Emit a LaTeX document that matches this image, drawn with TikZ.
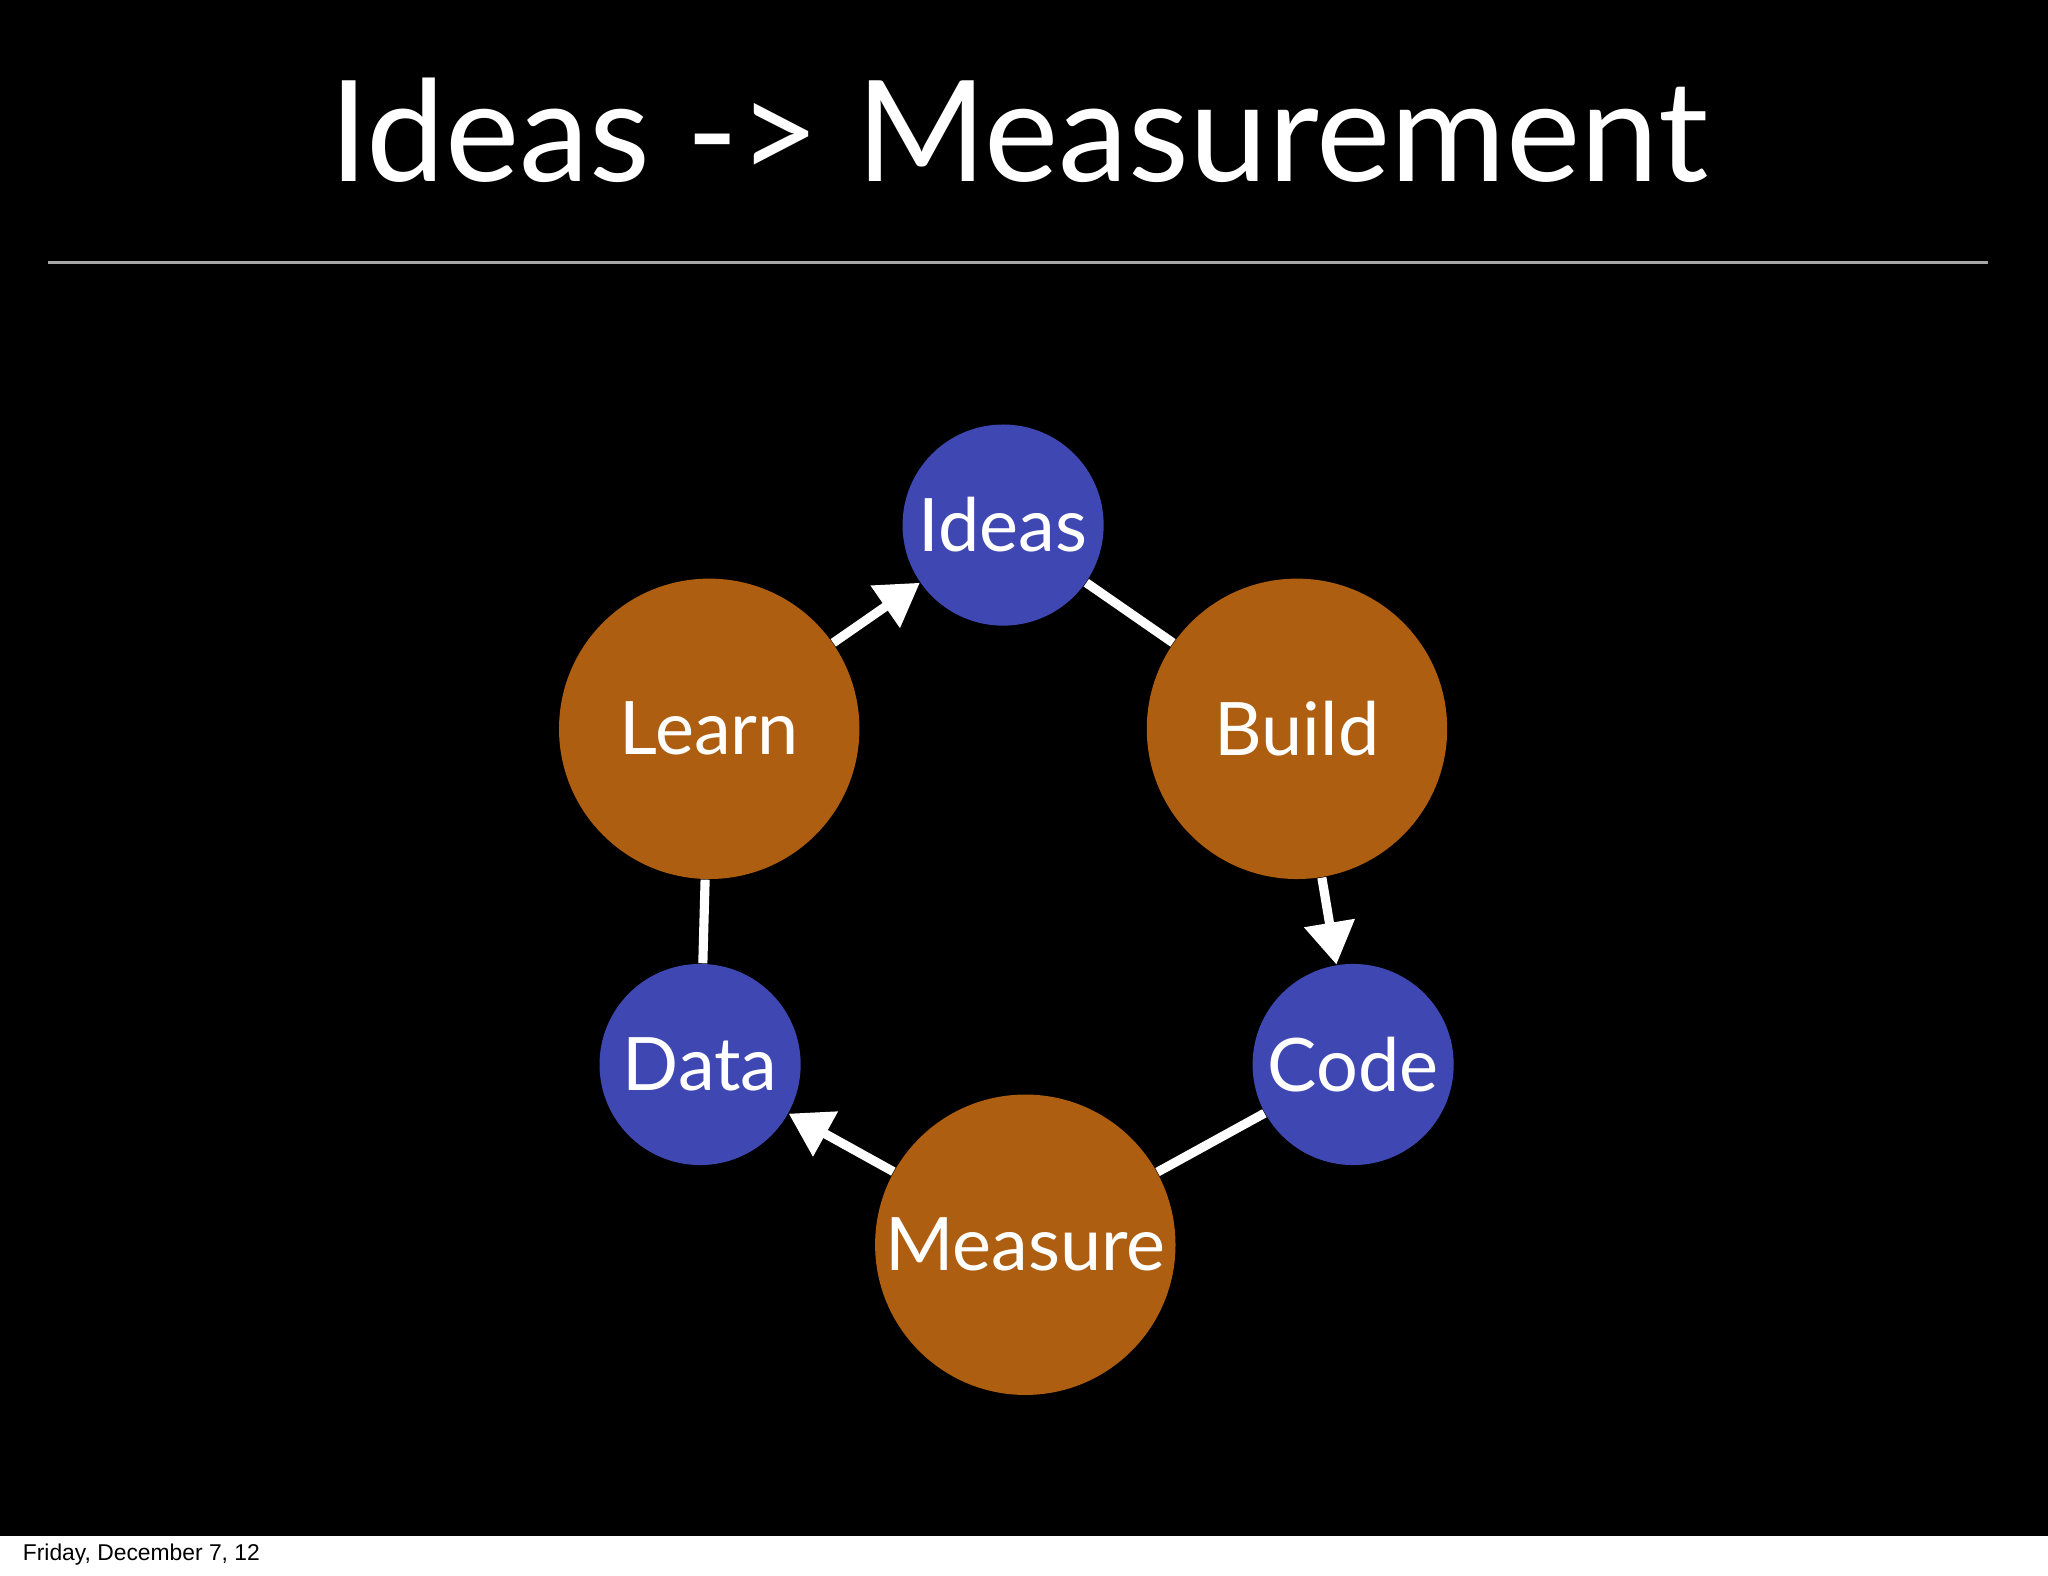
\documentclass[tikz,border=0pt]{standalone}
\usepackage{fontspec}
\setmainfont{Lato}
\newfontfamily\footfont{Liberation Sans}
\usetikzlibrary{arrows.meta}
\definecolor{cblue}{HTML}{3F48B2}
\definecolor{corange}{HTML}{AD5E10}
\begin{document}
\begin{tikzpicture}[x=0.01306cm,y=-0.01306cm,
  bignode/.style={circle,fill=corange,minimum size=230*0.01306cm,inner sep=0pt,text=white,font=\fontsize{21}{24}\selectfont},
  smallnode/.style={circle,fill=cblue,minimum size=154*0.01306cm,inner sep=0pt,text=white,font=\fontsize{21}{24}\selectfont},
  link/.style={white,line width=2.6pt},
  arr/.style={link,-{Triangle[length=12pt,width=14pt]}}]
\useasboundingbox (0,0) rectangle (1568,1206);
\fill[white] (0,0) rectangle (1568,1206);
\fill[black] (0,0) rectangle (1568,1176);
\node[text=white,font=\fontsize{40}{46}\selectfont] (title) at (780,100) {Ideas -> Measurement};
\draw[gray!70,line width=0.6pt] (37,201) -- (1522,201);
\node[smallnode] (ideas) at (768,402) {Ideas};
\node[bignode] (learn) at (543,558) {Learn};
\node[bignode] (build) at (993,558) {Build};
\node[smallnode] (code) at (1036,815) {Code};
\node[smallnode] (data) at (536,815) {Data};
\node[bignode] (measure) at (785,953) {Measure};
\draw[arr] (learn) -- (ideas);
\draw[link] (ideas) -- (build);
\draw[arr] (build) -- (code);
\draw[link] (code) -- (measure);
\draw[arr] (measure) -- (data);
\draw[link] (data) -- (learn);
\node[anchor=west,font=\footfont\fontsize{6.5}{8}\selectfont] (date) at (8,1190) {Friday, December 7, 12};
\end{tikzpicture}
\end{document}
